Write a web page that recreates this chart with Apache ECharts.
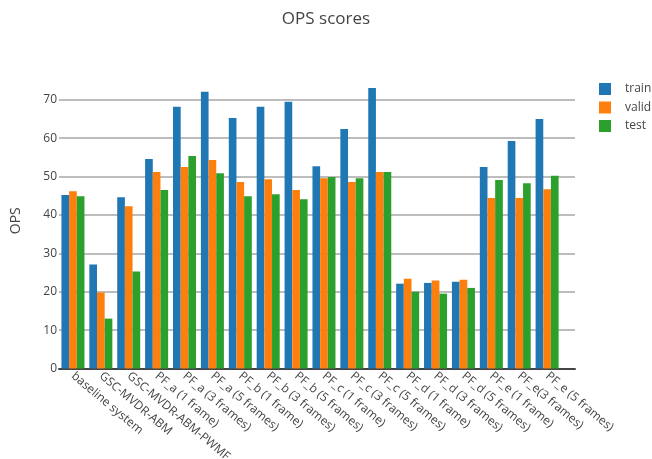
<!DOCTYPE html>
<html><head><meta charset="utf-8">
<script src="https://cdn.jsdelivr.net/npm/echarts@6/dist/echarts.min.js"></script>
<style>html,body{margin:0;padding:0;background:#fff}#c{width:652px;height:459px}</style>
</head><body><div id="c"></div>
<script>
const categories = ['baseline system','GSC-MVDR-ABM','GSC-MVDR-ABM-PWMF','PF_a (1 frame)','PF_a (3 frames)','PF_a (5 frames)','PF_b (1 frame)','PF_b (3 frames)','PF_b (5 frames)','PF_c (1 frame)','PF_c (3 frames)','PF_c (5 frames)','PF_d (1 frame)','PF_d (3 frames)','PF_d (5 frames)','PF_e (1 frame)','PF_e(3 frames)','PF_e (5 frames)'];
const train = [45.2, 27.1, 44.6, 54.6, 68.2, 72.1, 65.3, 68.2, 69.5, 52.7, 62.4, 73.1, 22.1, 22.3, 22.6, 52.5, 59.3, 65.0];
const valid = [46.2, 19.8, 42.3, 51.2, 52.5, 54.3, 48.6, 49.3, 46.5, 49.6, 48.6, 51.2, 23.4, 22.9, 23.1, 44.4, 44.4, 46.7];
const test  = [44.9, 13.0, 25.3, 46.5, 55.4, 50.9, 44.9, 45.4, 44.1, 49.9, 49.6, 51.2, 20.0, 19.5, 21.0, 49.1, 48.3, 50.2];
const seriesNames = ['train','valid','test'];
const colors = ['#1f77b4','#ff7f0e','#2ca02c'];
const font = '"Open Sans", sans-serif';

// plot frame spans x range [-0.5, 18.0] in category units
const plotLeft = 59, plotRight = 575;
const catW = (plotRight - plotLeft) / (categories.length + 0.5);
const barsRight = 652 - (plotLeft + catW * categories.length);

const chart = echarts.init(document.getElementById('c'), null, {renderer:'canvas'});
const mk = (name, data, color) => ({
  name, type:'bar', data, barGap:'0%', barCategoryGap:'17.5%', xAxisIndex:1, yAxisIndex:1,
  itemStyle:{color}, animation:false
});
chart.setOption({
  animation:false,
  title:{text:'OPS scores', left:'center', top:6,
    textStyle:{fontFamily:font, fontSize:17, fontWeight:'normal', color:'#444'}},
  legend:{orient:'vertical', left:594, top:78, icon:'rect', itemWidth:12, itemHeight:12, itemGap:6.5,
    data:seriesNames,
    textStyle:{fontFamily:font, fontSize:12, color:'#444', padding:[0,0,0,9]}},
  grid:[
    {left:plotLeft, right:652-plotRight, top:73, bottom:90.5, containLabel:false, outerBoundsMode:'none'},
    {left:plotLeft, right:barsRight, top:73, bottom:90.5, containLabel:false, outerBoundsMode:'none'}
  ],
  xAxis:[
    {type:'value', gridIndex:0, min:0, max:1, splitLine:{show:false},
     axisLine:{show:true, onZero:false, lineStyle:{color:'#444', width:2}},
     axisTick:{show:false}, axisLabel:{show:false}},
    {type:'category', gridIndex:1, data:categories,
     axisLine:{show:false}, axisTick:{show:false}, splitLine:{show:false},
     axisLabel:{rotate:-40, interval:0, margin:6, fontFamily:font, fontSize:12, color:'#444'}}
  ],
  yAxis:[
    {type:'value', gridIndex:0, min:0, max:77, interval:10,
     name:'OPS', nameLocation:'middle', nameGap:36, nameRotate:90,
     nameTextStyle:{fontFamily:font, fontSize:14, color:'#444'},
     axisLine:{show:false}, axisTick:{show:false},
     axisLabel:{showMaxLabel:false, margin:2, fontFamily:font, fontSize:12, color:'#444'},
     splitLine:{show:true, showMaxLine:false, showMinLine:false, lineStyle:{color:'#bdbdbd', width:2}}},
    {type:'value', gridIndex:1, min:0, max:77, interval:10, show:false, splitLine:{show:false}}
  ],
  series:[mk(seriesNames[0], train, colors[0]), mk(seriesNames[1], valid, colors[1]), mk(seriesNames[2], test, colors[2])]
});
</script></body></html>
